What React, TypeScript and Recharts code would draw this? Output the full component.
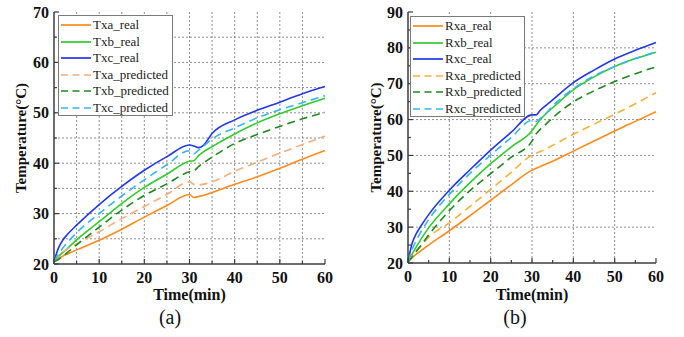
import React from 'react';
import { LineChart, Line, XAxis, YAxis, CartesianGrid, Legend } from 'recharts';

// sample times (min), shared by every curve of a panel
const timeA = [0, 1, 2, 3, 5, 10, 15, 20, 25, 30, 31, 32, 33, 35, 40, 45, 50, 55, 60];
const timeB = [0, 1, 2, 3, 5, 10, 15, 20, 25, 30, 31, 32, 33, 35, 40, 45, 50, 55, 60];

// panel (a): Tx temperatures (°C)
const txaReal = [20.5, 21.1, 21.6, 22.0, 22.8, 24.7, 26.9, 29.3, 31.6, 33.8, 33.2, 33.4, 33.6, 34.2, 35.8, 37.3, 39.0, 40.8, 42.5];
const txbReal = [20.5, 21.5, 22.3, 23.1, 24.8, 28.4, 32.0, 35.2, 37.8, 40.4, 40.5, 41.5, 42.2, 43.3, 45.8, 48.0, 49.8, 51.4, 52.9];
const txcReal = [20.5, 23.2, 24.8, 25.9, 27.7, 31.8, 35.4, 38.6, 41.3, 43.6, 43.4, 43.1, 43.5, 45.9, 48.6, 50.5, 52.1, 53.8, 55.2];
const txaPred = [20.5, 21.7, 22.4, 23.0, 24.0, 26.4, 29.0, 31.4, 33.8, 36.3, 35.8, 35.7, 35.8, 36.3, 38.4, 40.2, 42.0, 43.7, 45.4];
const txbPred = [20.5, 20.9, 21.6, 22.3, 23.8, 27.3, 30.7, 33.6, 35.9, 38.3, 38.5, 39.3, 40.0, 41.2, 43.9, 45.7, 47.3, 48.8, 50.1];
const txcPred = [20.5, 22.0, 23.2, 24.3, 26.2, 30.0, 33.5, 36.7, 39.7, 42.5, 41.9, 42.6, 43.3, 44.8, 47.0, 49.0, 50.6, 52.0, 53.4];

// panel (b): Rx temperatures (°C)
const rxaReal = [20.3, 21.5, 22.5, 23.3, 25.0, 29.0, 33.2, 37.5, 41.8, 45.9, 46.4, 46.9, 47.4, 48.4, 51.2, 54.0, 56.8, 59.5, 62.2];
const rxbReal = [20.3, 22.5, 24.5, 26.4, 29.8, 36.5, 42.4, 47.7, 52.4, 56.9, 58.5, 60.0, 61.2, 63.3, 68.3, 71.9, 74.8, 77.0, 78.8];
const rxcReal = [20.3, 25.5, 28.2, 30.1, 33.5, 40.3, 46.0, 51.5, 56.5, 61.3, 61.3, 62.6, 63.6, 65.5, 70.3, 73.8, 76.9, 79.3, 81.5];
const rxaPred = [20.3, 22.0, 23.5, 24.6, 27.2, 31.2, 35.8, 40.5, 45.3, 50.1, 50.6, 51.1, 51.6, 52.8, 55.9, 58.7, 61.5, 64.4, 67.5];
const rxbPred = [20.3, 21.7, 23.2, 24.7, 27.8, 34.6, 40.2, 44.9, 49.5, 54.0, 56.0, 57.3, 58.3, 60.5, 64.9, 68.0, 70.6, 72.8, 74.7];
const rxcPred = [20.3, 23.8, 26.3, 28.4, 32.1, 39.1, 45.0, 50.1, 55.0, 59.8, 59.5, 60.3, 61.3, 63.8, 68.6, 72.2, 74.8, 77.0, 78.9];

const xTicks = [0, 5, 10, 15, 20, 25, 30, 35, 40, 45, 50, 55, 60];
const yTicksA = [20, 25, 30, 35, 40, 45, 50, 55, 60, 65, 70];
const yTicksB = [20, 25, 30, 35, 40, 45, 50, 55, 60, 65, 70, 75, 80, 85, 90];
const xGridA = [5, 10, 15, 20, 25, 30, 35, 40, 45, 50, 55];
const yGridA = [25, 30, 35, 40, 45, 50, 55, 60, 65];
const xGridB = [10, 20, 30, 40, 50];
const yGridB = [30, 40, 50, 60, 70, 80];

const FONT = '"Liberation Serif", "Times New Roman", serif';
const AXIS = '#3c3c3c';
const GRID = '#8f8f8f';
const DASH = '8 5';

type Series = { key: string; name: string; color: string; dashed: boolean; values: number[] };

const seriesA: Series[] = [
  { key: 'txaReal', name: 'Txa_real', color: '#FF8A1C', dashed: false, values: txaReal },
  { key: 'txbReal', name: 'Txb_real', color: '#2FCC2F', dashed: false, values: txbReal },
  { key: 'txcReal', name: 'Txc_real', color: '#2238E8', dashed: false, values: txcReal },
  { key: 'txaPred', name: 'Txa_predicted', color: '#F9AD78', dashed: true, values: txaPred },
  { key: 'txbPred', name: 'Txb_predicted', color: '#1E8A1E', dashed: true, values: txbPred },
  { key: 'txcPred', name: 'Txc_predicted', color: '#35B6F2', dashed: true, values: txcPred },
];

const seriesB: Series[] = [
  { key: 'rxaReal', name: 'Rxa_real', color: '#FF8A1C', dashed: false, values: rxaReal },
  { key: 'rxbReal', name: 'Rxb_real', color: '#2FCC2F', dashed: false, values: rxbReal },
  { key: 'rxcReal', name: 'Rxc_real', color: '#2238E8', dashed: false, values: rxcReal },
  { key: 'rxaPred', name: 'Rxa_predicted', color: '#F2B23C', dashed: true, values: rxaPred },
  { key: 'rxbPred', name: 'Rxb_predicted', color: '#1E8A1E', dashed: true, values: rxbPred },
  { key: 'rxcPred', name: 'Rxc_predicted', color: '#35B6F2', dashed: true, values: rxcPred },
];

function buildRows(time: number[], series: Series[]) {
  return time.map((t, i) => {
    const row: Record<string, number> = { t };
    series.forEach((s) => (row[s.key] = s.values[i]));
    return row;
  });
}

// inward tick marks (longer on the labelled decades), labels only on bottom/left
function makeTick(side: 'bottom' | 'top' | 'left' | 'right') {
  return (props: any) => {
    const { x, y, payload } = props;
    const v = payload.value as number;
    const major = v % 10 === 0;
    const len = major ? 5 : 3;
    const textStyle = { fontFamily: FONT, fontSize: 16, fontWeight: 700, fill: '#111' };
    if (side === 'bottom') {
      return (
        <g>
          <line x1={x} x2={x} y1={y} y2={y - len} stroke={AXIS} strokeWidth={1.2} />
          {major && (
            <text x={x} y={y + 19} textAnchor="middle" style={textStyle}>{v}</text>
          )}
        </g>
      );
    }
    if (side === 'top') {
      return <line x1={x} x2={x} y1={y} y2={y + len} stroke={AXIS} strokeWidth={1.2} />;
    }
    if (side === 'left') {
      return (
        <g>
          <line x1={x} x2={x + len} y1={y} y2={y} stroke={AXIS} strokeWidth={1.2} />
          {major && (
            <text x={x - 5} y={y + 5.5} textAnchor="end" style={textStyle}>{v}</text>
          )}
        </g>
      );
    }
    return <line x1={x} x2={x - len} y1={y} y2={y} stroke={AXIS} strokeWidth={1.2} />;
  };
}

type PanelProps = {
  series: Series[];
  time: number[];
  yDomain: [number, number];
  yTicks: number[];
  xGrid: number[];
  yGrid: number[];
  yAxisWidth: number;
  marginRight: number;
  plotBottom: number;
  letter: string;
  letterX: number;
  yTitleX: number;
  legendX: number;
  legendY: number;
};

const W = 342;
const H = 337;
const TOP = 12;

function Panel(p: PanelProps) {
  const data = buildRows(p.time, p.series);
  const plotLeft = p.yAxisWidth;
  const plotRight = W - p.marginRight;
  const midX = (plotLeft + plotRight) / 2;
  const midY = (TOP + p.plotBottom) / 2;
  const xAxisH = 30;

  const legend = () => (
    <div
      style={{
        width: 115,
        height: 101,
        border: '1px solid #7a7a7a',
        background: '#fff',
        boxSizing: 'border-box',
        paddingTop: 1,
      }}
    >
      {p.series.map((s) => (
        <div key={s.key} style={{ display: 'flex', alignItems: 'center', height: 16.5 }}>
          <svg width={33} height={10} style={{ display: 'block' }}>
            <line
              x1={2}
              x2={32}
              y1={5}
              y2={5}
              stroke={s.color}
              strokeWidth={1.7}
              strokeDasharray={s.dashed ? '7 4.5' : undefined}
            />
          </svg>
          <span style={{ marginLeft: 1, fontFamily: FONT, fontSize: 13, color: '#222', lineHeight: '14px' }}>
            {s.name}
          </span>
        </div>
      ))}
    </div>
  );

  return (
    <LineChart
      width={W}
      height={H}
      data={data}
      margin={{ top: TOP, right: p.marginRight, left: 0, bottom: H - p.plotBottom - xAxisH }}
    >
      <CartesianGrid
        stroke={GRID}
        strokeWidth={1}
        strokeDasharray="2 2"
        horizontalValues={p.yGrid}
        verticalValues={p.xGrid}
      />
      <XAxis
        dataKey="t"
        type="number"
        domain={[0, 60]}
        ticks={xTicks}
        interval={0}
        height={xAxisH}
        tickSize={0}
        tickMargin={0}
        tick={makeTick('bottom')}
        tickLine={false}
        axisLine={{ stroke: AXIS, strokeWidth: 1.5 }}
        label={{
          content: () => (
            <g>
              <text x={midX} y={300} textAnchor="middle" style={{ fontFamily: FONT, fontSize: 16, fontWeight: 700, fill: '#111' }}>
                Time(min)
              </text>
              <text x={p.letterX} y={324} textAnchor="middle" style={{ fontFamily: FONT, fontSize: 20, fill: '#111' }}>
                {p.letter}
              </text>
            </g>
          ),
        }}
      />
      <XAxis
        xAxisId="top"
        orientation="top"
        dataKey="t"
        type="number"
        domain={[0, 60]}
        ticks={xTicks}
        interval={0}
        height={0}
        tickSize={0}
        tickMargin={0}
        tick={makeTick('top')}
        tickLine={false}
        axisLine={{ stroke: AXIS, strokeWidth: 1.5 }}
      />
      <YAxis
        type="number"
        domain={p.yDomain}
        ticks={p.yTicks}
        interval={0}
        width={p.yAxisWidth}
        tickSize={0}
        tickMargin={0}
        tick={makeTick('left')}
        tickLine={false}
        axisLine={{ stroke: AXIS, strokeWidth: 1.5 }}
        label={{
          content: () => (
            <text
              x={p.yTitleX}
              y={midY}
              textAnchor="middle"
              dominantBaseline="central"
              transform={`rotate(-90 ${p.yTitleX} ${midY})`}
              style={{ fontFamily: FONT, fontSize: 15, fontWeight: 700, fill: '#111' }}
            >
              Temperature(°C)
            </text>
          ),
        }}
      />
      <YAxis
        yAxisId="right"
        orientation="right"
        type="number"
        domain={p.yDomain}
        ticks={p.yTicks}
        interval={0}
        width={0}
        tickSize={0}
        tickMargin={0}
        tick={makeTick('right')}
        tickLine={false}
        axisLine={{ stroke: AXIS, strokeWidth: 1.5 }}
      />
      <Legend
        layout="vertical"
        align="center"
        verticalAlign="middle"
        content={legend}
        wrapperStyle={{ left: p.legendX, top: p.legendY, width: 115, height: 101 }}
      />
      {p.series.map((s) => (
        <Line
          key={s.key}
          dataKey={s.key}
          name={s.name}
          type="monotone"
          stroke={s.color}
          strokeWidth={1.6}
          strokeDasharray={s.dashed ? DASH : undefined}
          dot={false}
          activeDot={false}
          isAnimationActive={false}
        />
      ))}
    </LineChart>
  );
}

export default function App() {
  return (
    <div style={{ position: 'absolute', left: 0, top: 0, width: 684, height: 337, background: '#fff' }}>
      <div style={{ position: 'absolute', left: 0, top: 0 }}>
        <Panel
          series={seriesA}
          time={timeA}
          yDomain={[20, 70]}
          yTicks={yTicksA}
          xGrid={xGridA}
          yGrid={yGridA}
          yAxisWidth={54}
          marginRight={17}
          plotBottom={264}
          letter="(a)"
          letterX={170}
          yTitleX={21}
          legendX={58}
          legendY={15}
        />
      </div>
      <div style={{ position: 'absolute', left: 342, top: 0 }}>
        <Panel
          series={seriesB}
          time={timeB}
          yDomain={[20, 90]}
          yTicks={yTicksB}
          xGrid={xGridB}
          yGrid={yGridB}
          yAxisWidth={66}
          marginRight={28}
          plotBottom={263}
          letter="(b)"
          letterX={173}
          yTitleX={34}
          legendX={68}
          legendY={16}
        />
      </div>
    </div>
  );
}
